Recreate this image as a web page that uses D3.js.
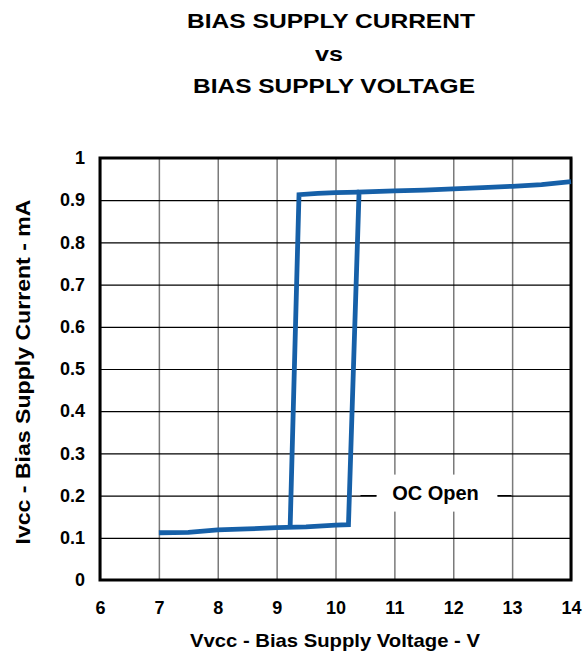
<!DOCTYPE html>
<html>
<head>
<meta charset="utf-8">
<script src="https://cdn.jsdelivr.net/npm/d3@7"></script>
<style>
  body { margin: 0; background: #fff; }
  text { font-family: "Liberation Sans", Arial, sans-serif; font-weight: bold; fill: #000; }
</style>
</head>
<body>
<div id="chart"></div>
<script>
// tick values
var xTicks = [6, 7, 8, 9, 10, 11, 12, 13, 14];
var yTicks = [0, 0.1, 0.2, 0.3, 0.4, 0.5, 0.6, 0.7, 0.8, 0.9, 1];

// rising sweep (low until ~10.2 V, then switches on)
var riseV = [7, 7.5, 8, 8.5, 9, 9.5, 10, 10.22, 10.4, 11, 11.5, 12, 12.5, 13, 13.5, 14];
var riseI = [0.112, 0.113, 0.119, 0.121, 0.124, 0.126, 0.13, 0.131, 0.919, 0.922, 0.924, 0.927, 0.93, 0.933, 0.937, 0.944];

// falling sweep (drops out near 9.3 V)
var fallV = [9.23, 9.38, 9.7, 10, 10.4];
var fallI = [0.127, 0.913, 0.916, 0.918, 0.919];

var titleLines = ["BIAS SUPPLY CURRENT", "vs", "BIAS SUPPLY VOLTAGE"];

(function () {
    var W = 584, H = 653;
    var margin = { top: 158, right: 13, bottom: 73, left: 100 },
        width = W - margin.left - margin.right,
        height = H - margin.top - margin.bottom;

    var svg = d3.select("#chart").append("svg")
        .attr("width", W)
        .attr("height", H);

    var g = svg.append("g")
        .attr("transform", "translate(" + margin.left + "," + margin.top + ")");

    var x = d3.scaleLinear().domain([6, 14]).range([0, width]);
    var y = d3.scaleLinear().domain([0, 1]).range([height, 0]);

    //TITLE
    var titleX = [331, 329, 334], titleY = [28, 61, 93], titleLen = [288, 28, 282];
    svg.selectAll(".title").data(titleLines).enter().append("text")
        .attr("x", function (d, i) { return titleX[i]; })
        .attr("y", function (d, i) { return titleY[i]; })
        .attr("text-anchor", "middle")
        .attr("textLength", function (d, i) { return titleLen[i]; })
        .attr("lengthAdjust", "spacingAndGlyphs")
        .style("font-size", "21px")
        .text(function (d) { return d; });

    //X GRID (gray)
    g.append("g")
        .attr("transform", "translate(0," + height + ")")
        .call(d3.axisBottom(x).tickValues(xTicks).tickSize(-height).tickFormat(""))
        .call(function (s) {
            s.select(".domain").remove();
            s.selectAll("line").attr("stroke", "#7a7a7a").attr("stroke-width", 1.5);
        });

    //Y GRID (black)
    g.append("g")
        .call(d3.axisLeft(y).tickValues(yTicks).tickSize(-width).tickFormat(""))
        .call(function (s) {
            s.select(".domain").remove();
            s.selectAll("line").attr("stroke", "#000").attr("stroke-width", 1.2);
        });

    //FRAME
    g.append("rect")
        .attr("x", 0).attr("y", 0)
        .attr("width", width).attr("height", height)
        .attr("fill", "none")
        .attr("stroke", "#000")
        .attr("stroke-width", 3);

    //LABEL BOX
    var lx = 335.5, ly = y(0.2);
    g.append("rect")
        .attr("x", lx - 59).attr("y", ly - 21)
        .attr("width", 121).attr("height", 37)
        .attr("fill", "#fff");
    g.append("line")
        .attr("x1", lx - 75).attr("x2", lx - 59)
        .attr("y1", ly).attr("y2", ly)
        .attr("stroke", "#000").attr("stroke-width", 1.2);
    g.append("line")
        .attr("x1", lx + 62).attr("x2", lx + 76)
        .attr("y1", ly).attr("y2", ly)
        .attr("stroke", "#000").attr("stroke-width", 1.2);
    g.append("text")
        .attr("x", lx)
        .attr("y", 500 - margin.top)
        .attr("text-anchor", "middle")
        .style("font-size", "20px")
        .text("OC Open");

    //LINES
    var line = d3.line()
        .x(function (d) { return x(d[0]); })
        .y(function (d) { return y(d[1]); });

    var rise = d3.zip(riseV, riseI);
    var fall = d3.zip(fallV, fallI);

    [rise, fall].forEach(function (pts) {
        g.append("path")
            .datum(pts)
            .attr("fill", "none")
            .attr("stroke", "#1660a8")
            .attr("stroke-width", 4.8)
            .attr("stroke-linejoin", "miter")
            .attr("d", line);
    });

    //X LABELS
    g.append("g")
        .attr("transform", "translate(0," + height + ")")
        .call(d3.axisBottom(x).tickValues(xTicks).tickSize(0).tickPadding(21))
        .call(function (s) {
            s.select(".domain").remove();
            s.selectAll("text").style("font-size", "18px")
                .style("font-family", "Liberation Sans, Arial, sans-serif")
                .style("font-weight", "bold");
        });

    //Y LABELS
    g.append("g")
        .call(d3.axisLeft(y).tickValues(yTicks).tickSize(0).tickPadding(15)
            .tickFormat(function (d) { return d === 0 || d === 1 ? d : d3.format(".1f")(d); }))
        .call(function (s) {
            s.select(".domain").remove();
            s.selectAll("text").style("font-size", "18px")
                .style("font-family", "Liberation Sans, Arial, sans-serif")
                .style("font-weight", "bold");
        });

    //AXIS TITLES
    svg.append("text")
        .attr("x", 335)
        .attr("y", 647)
        .attr("text-anchor", "middle")
        .attr("textLength", 290)
        .attr("lengthAdjust", "spacingAndGlyphs")
        .style("font-size", "19px")
        .text("Vvcc - Bias Supply Voltage - V");

    svg.append("text")
        .attr("transform", "translate(30,372) rotate(-90)")
        .attr("text-anchor", "middle")
        .attr("textLength", 345)
        .attr("lengthAdjust", "spacingAndGlyphs")
        .style("font-size", "20px")
        .text("Ivcc - Bias Supply Current - mA");
})();
</script>
</body>
</html>
